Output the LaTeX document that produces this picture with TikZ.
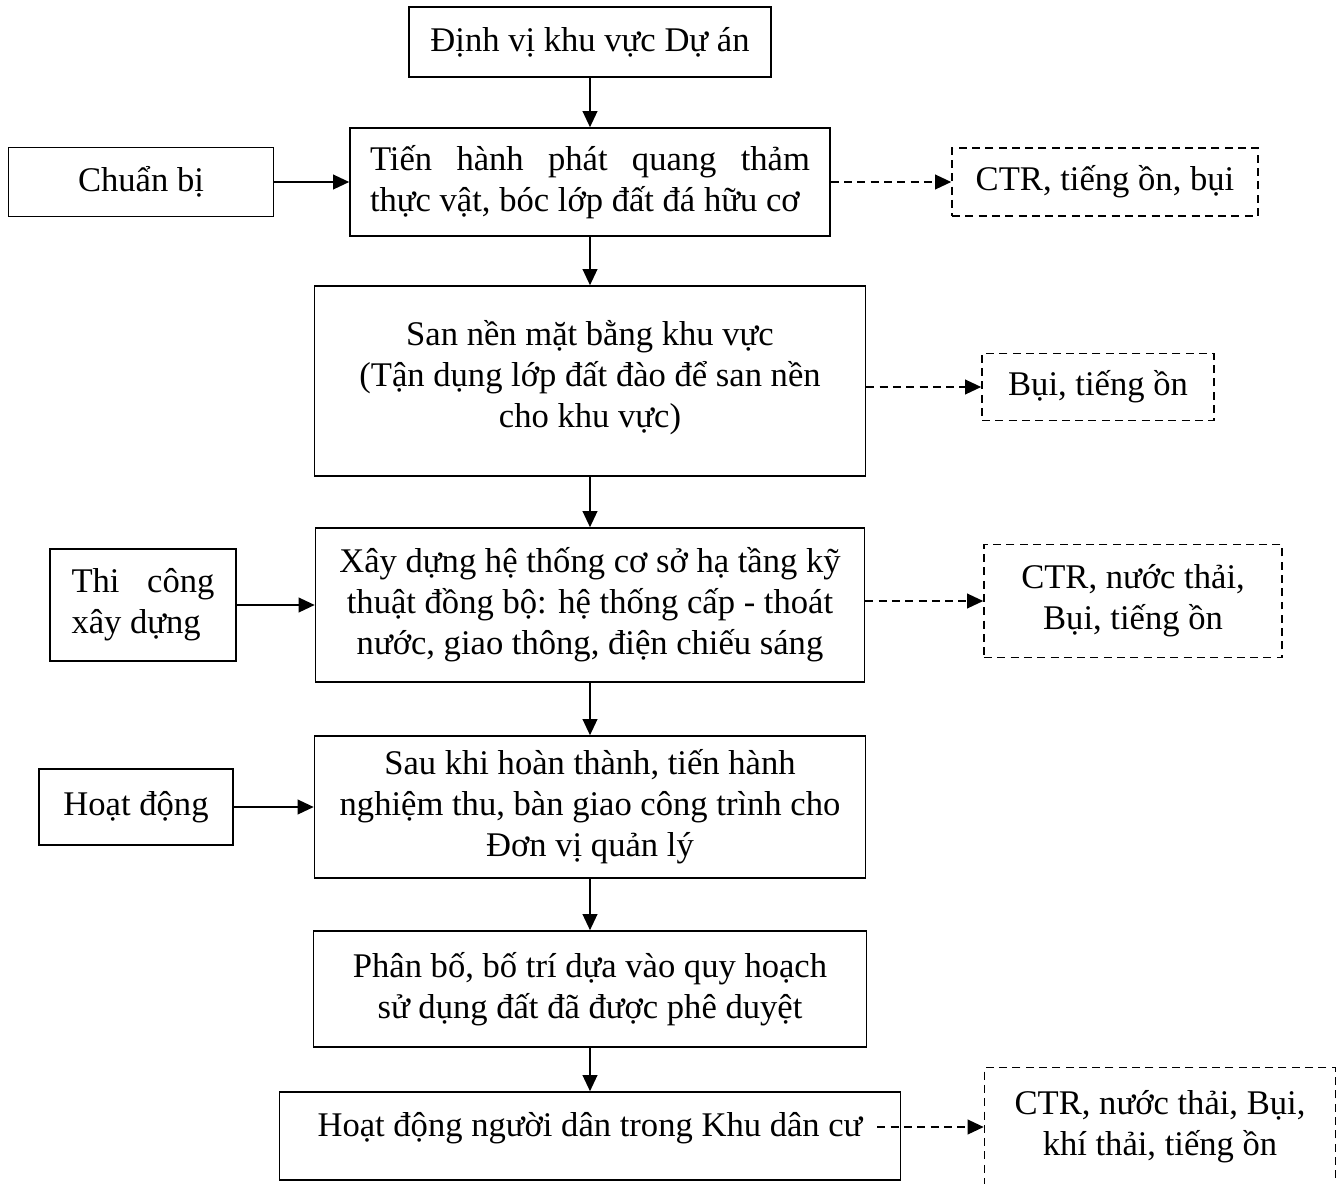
\documentclass[tikz,border=0pt]{standalone}
\usepackage{fontspec}
\setmainfont{Liberation Serif}
\usetikzlibrary{arrows.meta}
\newdimen\pxu \pxu=0.3757pt
\tikzset{
  hop/.style = {draw=black, rectangle, align=center, inner sep=0pt,
    font=\fontsize{13}{15.4}\selectfont},% hop, net lien
  hop_j/.style = {hop, align=justify},% hop, chu can deu
  hop_d/.style = {hop, dash pattern=on 3pt off 2pt},% hop, net dut
  net_d/.style = {dash pattern=on 3pt off 2pt}% mui ten, net dut
}

\begin{document}
\begin{tikzpicture}[x=\pxu, y=-\pxu, line width=0.6pt,
                    ->, >={Triangle[length=6pt,width=5.5pt]}]
  \useasboundingbox (0,0) rectangle (1344,1184);
  % cot giua
  \node [hop, minimum width=362\pxu, minimum height=70\pxu] (dinhvi) at (590,42)
    {Định vị khu vực Dự án};
  \node [hop_j, text width=440\pxu, minimum width=480\pxu, minimum height=108\pxu]
    (phatquang) at (590,182)
    {Tiến hành phát quang thảm\linebreak thực vật, bóc lớp đất đá hữu cơ};
  \node [hop, minimum width=551\pxu, minimum height=190\pxu, text depth=0.55em]
    (sannen) at (590,381)
    {San nền mặt bằng khu vực\\(Tận dụng lớp đất đào để san nền\\cho khu vực)};
  \node [hop, minimum width=549\pxu, minimum height=154\pxu] (xaydung) at (590,605)
    {Xây dựng hệ thống cơ sở hạ tầng kỹ\\thuật đồng bộ: hệ thống cấp - thoát\\nước, giao thông, điện chiếu sáng};
  \node [hop, minimum width=551\pxu, minimum height=142\pxu] (nghiemthu) at (590,807)
    {Sau khi hoàn thành, tiến hành\\nghiệm thu, bàn giao công trình cho\\Đơn vị quản lý};
  \node [hop, minimum width=553\pxu, minimum height=116\pxu] (phanbo) at (590,989)
    {Phân bố, bố trí dựa vào quy hoạch\\sử dụng đất đã được phê duyệt};
  \node [hop, minimum width=621\pxu, minimum height=88\pxu, text depth=0.85em]
    (dancu) at (590,1136)
    {Hoạt động người dân trong Khu dân cư};
  % cot trai
  \node [hop, minimum width=265\pxu, minimum height=69\pxu] (chuanbi) at (141,182)
    {Chuẩn bị};
  \node [hop_j, text width=143\pxu, minimum width=186\pxu, minimum height=112\pxu]
    (thicong) at (143,605)
    {Thi công\linebreak xây dựng};
  \node [hop, minimum width=194\pxu, minimum height=76\pxu] (hoatdong) at (136,807)
    {Hoạt động};
  % cot phai
  \node [hop_d, minimum width=306\pxu, minimum height=68\pxu] (ctr1) at (1105,182)
    {CTR, tiếng ồn, bụi};
  \node [hop_d, minimum width=232\pxu, minimum height=67\pxu] (bui) at (1098,387)
    {Bụi, tiếng ồn};
  \node [hop_d, minimum width=298\pxu, minimum height=113\pxu] (ctr2) at (1133,601)
    {CTR, nước thải,\\Bụi, tiếng ồn};
  \node [hop_d, minimum width=351\pxu, minimum height=119\pxu] (ctr3) at (1160,1127)
    {CTR, nước thải, Bụi,\\khí thải, tiếng ồn};
  \coordinate (dc_out) at ([xshift=-24\pxu]dancu.east);

  \draw (dinhvi) -- (phatquang);
  \draw (phatquang) -- (sannen);
  \draw (sannen) -- (xaydung);
  \draw (xaydung) -- (nghiemthu);
  \draw (nghiemthu) -- (phanbo);
  \draw (phanbo) -- (dancu);

  \draw (chuanbi) -- (phatquang);
  \draw (thicong) -- (xaydung);
  \draw (hoatdong) -- (nghiemthu);

  \draw [net_d] (phatquang) -- (ctr1);
  \draw [net_d] (bui.west -| sannen.east) -- (bui.west);
  \draw [net_d] (ctr2.west -| xaydung.east) -- (ctr2.west);
  \draw [net_d] (ctr3.west -| dc_out) -- (ctr3.west);
\end{tikzpicture}
\end{document}
